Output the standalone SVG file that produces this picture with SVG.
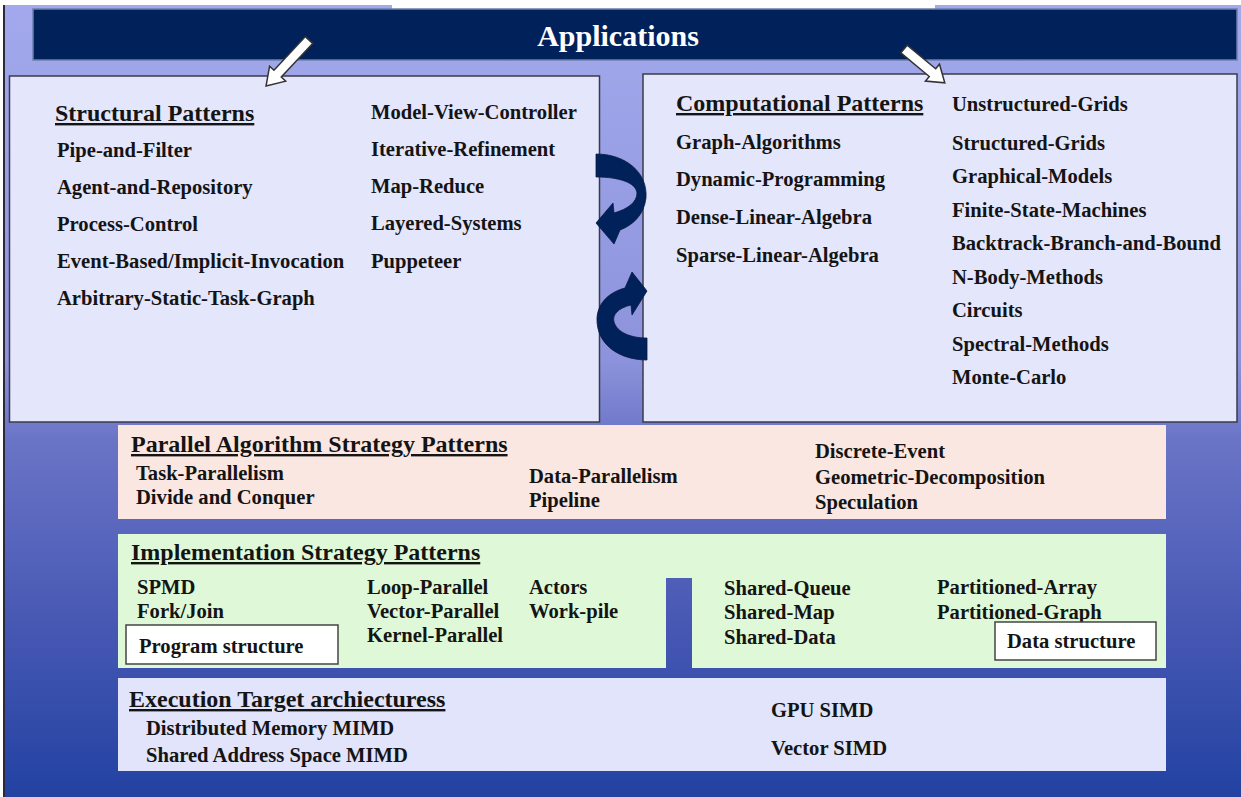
<svg xmlns="http://www.w3.org/2000/svg" width="1241" height="797" viewBox="0 0 1241 797">
  <style>
    text { font-family: "Liberation Serif", "Times New Roman", serif; font-weight: bold; fill: #141414; }
    .item { font-size: 20.6px; }
    .title { font-size: 24px; text-decoration: underline; }
    .app { font-size: 30px; fill: #ffffff; }
    .panel { fill: #e4e6fc; stroke: #3b3b48; stroke-width: 1.5; }
    .tag { fill: #ffffff; stroke: #444; stroke-width: 1.5; }
    .block-arrow { fill: #ffffff; stroke: #333; stroke-width: 1.5; stroke-linejoin: miter; }
    .swirl { fill: #00215a; stroke: #0a1a40; stroke-width: 0.8; }
  </style>
  <defs>
    <linearGradient id="bg" x1="0" y1="0" x2="0" y2="1">
      <stop offset="0" stop-color="#a3a9ec"/>
      <stop offset="0.45" stop-color="#8c93dc"/>
      <stop offset="0.55" stop-color="#6a74c6"/>
      <stop offset="0.8" stop-color="#4456b2"/>
      <stop offset="1" stop-color="#2242a2"/>
    </linearGradient>
  </defs>

  <!-- page background -->
  <rect x="0" y="0" width="1241" height="797" fill="#ffffff"/>
  <rect x="4" y="5" width="1237" height="792" fill="url(#bg)"/>
  <line x1="4" y1="5" x2="4" y2="797" stroke="#2a2a3a" stroke-width="2"/>
  <rect x="392" y="0" width="543" height="12" fill="#ffffff"/>

  <!-- Applications banner -->
  <g id="applications">
    <rect x="33" y="9" width="1204" height="51" fill="#00215a" stroke="#6d80ad" stroke-width="1.5"/>
    <text class="app" x="618" y="46" text-anchor="middle">Applications</text>
  </g>

  <!-- Structural patterns -->
  <g id="structural">
    <rect class="panel" x="9.5" y="76" width="590" height="346"/>
    <text class="title" x="55" y="121">Structural Patterns</text>
    <text class="item" x="57" y="157">Pipe-and-Filter</text>
    <text class="item" x="57" y="194">Agent-and-Repository</text>
    <text class="item" x="57" y="231">Process-Control</text>
    <text class="item" x="57" y="268">Event-Based/Implicit-Invocation</text>
    <text class="item" x="57" y="305">Arbitrary-Static-Task-Graph</text>
    <text class="item" x="371" y="119">Model-View-Controller</text>
    <text class="item" x="371" y="156">Iterative-Refinement</text>
    <text class="item" x="371" y="193">Map-Reduce</text>
    <text class="item" x="371" y="230">Layered-Systems</text>
    <text class="item" x="371" y="268">Puppeteer</text>
  </g>

  <!-- Computational patterns -->
  <g id="computational">
    <rect class="panel" x="643" y="74" width="594" height="348"/>
    <text class="title" x="676" y="111">Computational Patterns</text>
    <text class="item" x="676" y="149">Graph-Algorithms</text>
    <text class="item" x="676" y="186">Dynamic-Programming</text>
    <text class="item" x="676" y="224">Dense-Linear-Algebra</text>
    <text class="item" x="676" y="262">Sparse-Linear-Algebra</text>
    <text class="item" x="952" y="111">Unstructured-Grids</text>
    <text class="item" x="952" y="150">Structured-Grids</text>
    <text class="item" x="952" y="183">Graphical-Models</text>
    <text class="item" x="952" y="217">Finite-State-Machines</text>
    <text class="item" x="952" y="250">Backtrack-Branch-and-Bound</text>
    <text class="item" x="952" y="284">N-Body-Methods</text>
    <text class="item" x="952" y="317">Circuits</text>
    <text class="item" x="952" y="351">Spectral-Methods</text>
    <text class="item" x="952" y="384">Monte-Carlo</text>
  </g>

  <!-- Parallel algorithm strategy patterns -->
  <g id="algorithm-strategy">
    <rect x="118" y="425" width="1048" height="94" fill="#fbe7e1"/>
    <text class="title" x="131" y="452">Parallel Algorithm Strategy Patterns</text>
    <text class="item" x="136" y="480">Task-Parallelism</text>
    <text class="item" x="136" y="504">Divide and Conquer</text>
    <text class="item" x="529" y="483">Data-Parallelism</text>
    <text class="item" x="529" y="507">Pipeline</text>
    <text class="item" x="815" y="458">Discrete-Event</text>
    <text class="item" x="815" y="484">Geometric-Decomposition</text>
    <text class="item" x="815" y="509">Speculation</text>
  </g>

  <!-- Implementation strategy patterns -->
  <g id="implementation-strategy">
    <path d="M118,534 H1166 V668 H692 V578 H666 V668 H118 Z" fill="#dff9d8"/>
    <text class="title" x="131" y="560">Implementation Strategy Patterns</text>
    <text class="item" x="137" y="594">SPMD</text>
    <text class="item" x="137" y="618">Fork/Join</text>
    <text class="item" x="367" y="594">Loop-Parallel</text>
    <text class="item" x="367" y="618">Vector-Parallel</text>
    <text class="item" x="367" y="642">Kernel-Parallel</text>
    <text class="item" x="529" y="594">Actors</text>
    <text class="item" x="529" y="618">Work-pile</text>
    <text class="item" x="724" y="595">Shared-Queue</text>
    <text class="item" x="724" y="619">Shared-Map</text>
    <text class="item" x="724" y="644">Shared-Data</text>
    <text class="item" x="937" y="594">Partitioned-Array</text>
    <text class="item" x="937" y="619">Partitioned-Graph</text>
  </g>
  <g id="program-structure">
    <rect class="tag" x="126" y="625" width="212" height="39"/>
    <text class="item" x="139" y="653">Program structure</text>
  </g>
  <g id="data-structure">
    <rect class="tag" x="995" y="622" width="161" height="38"/>
    <text class="item" x="1007" y="648">Data structure</text>
  </g>

  <!-- Execution targets -->
  <g id="execution-targets">
    <rect x="118" y="678" width="1048" height="93" fill="#e1e4fa"/>
    <text class="title" x="129" y="707">Execution Target archiecturess</text>
    <text class="item" x="146" y="735">Distributed Memory MIMD</text>
    <text class="item" x="146" y="762">Shared Address Space MIMD</text>
    <text class="item" x="771" y="717">GPU SIMD</text>
    <text class="item" x="771" y="755">Vector SIMD</text>
  </g>

  <!-- connectors -->
  <g id="connectors">
    <!-- white block arrows from the banner -->
    <polygon class="block-arrow" transform="translate(309,40) rotate(133)" points="0,-5 46,-5 46,-11 63,0 46,11 46,5 0,5"/>
    <polygon class="block-arrow" transform="translate(904,49) rotate(39.7)" points="0,-5 37,-5 37,-11 53,0 37,11 37,5 0,5"/>
    <!-- curved arrows between the two pattern panels -->
    <path class="swirl" d="M596,154 C625,154 648,172 646,198 C644,215 633,225 620,230 L614,244 L596,223 L613,203 L614,213 C628,209 637,202 637,193 C636,183 620,177 596,177 Z"/>
    <path class="swirl" d="M647,360 C620,360 596,345 597,318 C598,302 610,292 625,288 L632,272 L647,291 L632,315 L631,305 C618,308 612,315 614,322 C617,332 630,338 647,338 Z"/>
  </g>
</svg>
